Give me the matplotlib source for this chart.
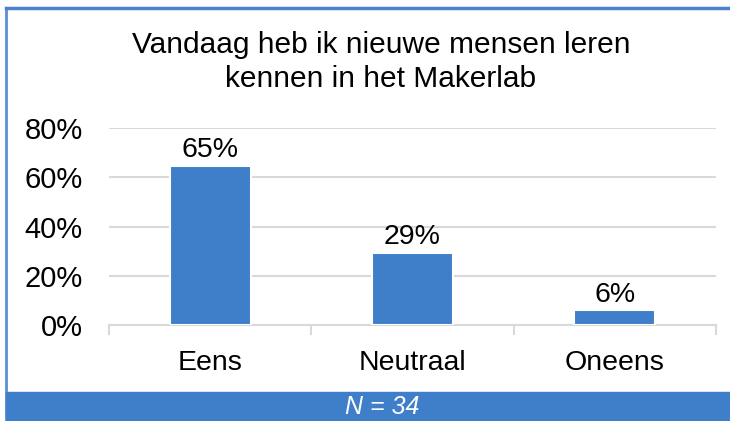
import matplotlib
matplotlib.use("Agg")
import matplotlib.pyplot as plt
from matplotlib.patches import Rectangle
from matplotlib.lines import Line2D

categories = ["Eens", "Neutraal", "Oneens"]
values = [64.7, 29.4, 5.9]
labels = ["65%", "29%", "6%"]
yticks = [0, 20, 40, 60, 80]
title = "Vandaag heb ik nieuwe mensen leren\nkennen in het Makerlab"
footer = "N = 34"

blue = "#3F7EC9"
plt.rcParams["font.family"] = ["Liberation Sans", "DejaVu Sans"]

W, H = 730, 421
fig = plt.figure(figsize=(W / 100, H / 100), dpi=100)
ax = fig.add_axes([109 / W, 1 - 325 / H, (716 - 109) / W, (325 - 128) / H])

x = range(len(categories))
bars = ax.bar(x, values, width=0.4, color=blue, edgecolor="white", linewidth=1.5, zorder=3)
for b, lab in zip(bars, labels):
    ax.text(b.get_x() + b.get_width() / 2, b.get_height() + 1.0, lab,
            ha="center", va="bottom", fontsize=20.5, color="black")

ax.set_xlim(-0.5, len(categories) - 0.5)
ax.set_ylim(0, 80)
ax.set_yticks(yticks)
ax.set_yticklabels([f"{t}%" for t in yticks])
ax.set_xticks(list(x))
ax.set_xticklabels(categories)
ax.tick_params(axis="y", length=0, labelsize=21, pad=19)
ax.tick_params(axis="x", length=0, labelsize=20.5, pad=18)
ax.yaxis.grid(True, color="#D9D9D9", linewidth=1.5, zorder=0)
for s in ["top", "right", "left"]:
    ax.spines[s].set_visible(False)
ax.spines["bottom"].set_color("#D9D9D9")
ax.spines["bottom"].set_linewidth(1.5)
# category separator ticks below the axis
for xb in [-0.5, 0.5, 1.5, 2.5]:
    ax.plot([xb, xb], [0, -3.5], color="#D9D9D9", linewidth=1.5, clip_on=False)

fig.text(381 / W, 1 - 62 / H, title, ha="center", va="center", fontsize=21.5,
         linespacing=1.3)

# frame and footer band
fig.add_artist(Line2D([6 / W, 6 / W], [0, 1 - 8 / H], color="#5B8FD3", linewidth=2))
fig.add_artist(Line2D([6 / W, 1], [1 - 8 / H, 1 - 8 / H], color="#4A82CC", linewidth=2.5))
fig.add_artist(Rectangle((6 / W, 0), 1 - 6 / W, 29 / H, transform=fig.transFigure,
                         color=blue, zorder=5))
fig.text(382 / W, 14 / H, footer, ha="center", va="center", fontsize=18,
         color="white", style="italic", zorder=6)

fig.savefig("out.png", dpi=100)
